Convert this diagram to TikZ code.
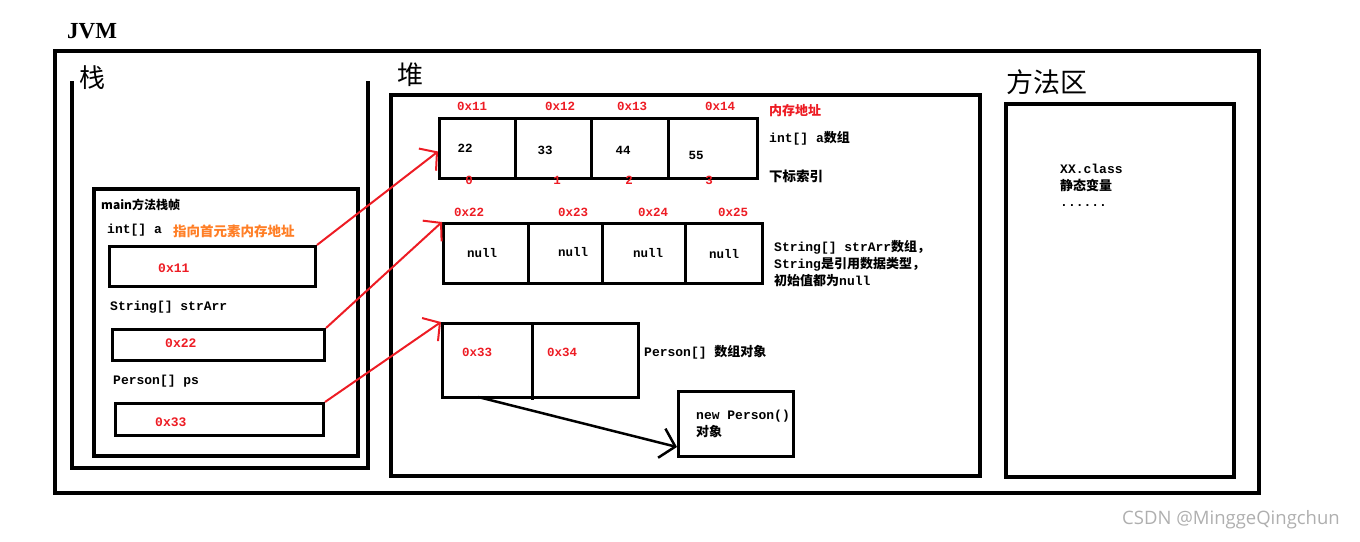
\documentclass[tikz,border=0pt]{standalone}
\usepackage{fontspec}
\setmainfont{Liberation Mono}
\newfontfamily\cjk{Noto Sans CJK SC}
\newfontfamily\jvmfont{Liberation Serif}
\newfontfamily\wmfont{Open Sans}
\newcommand{\zh}[1]{{\cjk #1}}
\usetikzlibrary{arrows.meta}
\definecolor{pred}{HTML}{ED1C24}
\definecolor{porange}{HTML}{FF7F27}
\definecolor{wgray}{HTML}{AFAFAF}
\begin{document}
\begin{tikzpicture}[x=1pt,y=-1pt,
  frame/.style={draw, line width=4pt, inner sep=0, anchor=north west},
  cell/.style={draw, line width=3pt, inner sep=0, anchor=north west},
  divider/.style={line width=3pt},
  txt/.style={inner sep=0, anchor=west, font=\fontsize{13}{15}\selectfont\bfseries},
  ctxt/.style={inner sep=0, anchor=center, font=\fontsize{12.5}{15}\selectfont\bfseries},
  addr/.style={ctxt, text=pred},
  big/.style={inner sep=0, anchor=west, font={\cjk\fontsize{26}{28}\selectfont}},
  redarrow/.style={draw=pred, line width=2pt, -{Straight Barb[length=12pt,width=28pt,line width=2pt]}},
  blackarrow/.style={draw=black, line width=2.5pt, -{Straight Barb[length=14pt,width=30pt,line width=2.5pt]}}
]
\useasboundingbox (0,0) rectangle (1360,541);

% JVM
\node[inner sep=0, anchor=west, font={\jvmfont\bfseries\fontsize{23}{26}\selectfont}] (jvmlbl) at (67,31) {JVM};
\node[frame, minimum width=1204pt, minimum height=442pt] (jvm) at (53,49) {};

% Stack
\node[big] (stacklbl) at (79,78) {栈};
\coordinate (sl) at (72,81);
\coordinate (sr) at (368,81);
\draw[line width=4pt] (sl) |- (368,468) -- (sr);

\node[frame, minimum width=264pt, minimum height=267pt] (mainframe) at (92,187) {};
\node[inner sep=0, anchor=west, font={\cjk\bfseries\fontsize{12}{14}\selectfont}] (mainlbl) at (101,205) {main方法栈帧};
\node[txt] (vara) at (107,230) {int[] a};
\node[inner sep=0, anchor=west, text=porange, font={\cjk\bfseries\fontsize{13.5}{15}\selectfont}] (note) at (173,231) {指向首元素内存地址};
\node[cell, minimum width=206pt, minimum height=40pt] (b1) at (108,245) {};
\node[txt, text=pred] (b1t) at (158,268) {0x11};
\node[txt] (varstr) at (110,307) {String[] strArr};
\node[cell, minimum width=212pt, minimum height=31pt] (b2) at (111,328) {};
\node[txt, text=pred] (b2t) at (165,343) {0x22};
\node[txt] (varps) at (113,381) {Person[] ps};
\node[cell, minimum width=208pt, minimum height=32pt] (b3) at (114,402) {};
\node[txt, text=pred] (b3t) at (155,422) {0x33};

% Heap
\node[big] (heaplbl) at (397,75) {堆};
\node[frame, minimum width=589pt, minimum height=381pt] (heap) at (389,93) {};

% array 1
\node[cell, minimum width=318pt, minimum height=60pt] (arr1) at (438,117) {};
\coordinate (d11) at (515,117); \coordinate (d12) at (591,117); \coordinate (d13) at (668,117);
\draw[divider] (d11) -- (515,177);
\draw[divider] (d12) -- (591,177);
\draw[divider] (d13) -- (668,179);
\node[addr] (a11) at (472,106) {0x11};
\node[addr] (a12) at (560,106) {0x12};
\node[addr] (a13) at (632,106) {0x13};
\node[addr] (a14) at (720,106) {0x14};
\node[ctxt] (v1) at (465,148) {22};
\node[ctxt] (v2) at (545,150) {33};
\node[ctxt] (v3) at (623,150) {44};
\node[ctxt] (v4) at (696,155) {55};
\node[addr] (i0) at (469,180) {0};
\node[addr] (i1) at (557,180) {1};
\node[addr] (i2) at (629,180) {2};
\node[addr] (i3) at (709,180) {3};
\node[inner sep=0, anchor=west, text=pred, font={\cjk\bfseries\fontsize{13}{15}\selectfont}] (memlbl) at (769,111) {内存地址};
\node[txt] (arr1lbl) at (769,138) {int[] a\zh{数组}};
\node[inner sep=0, anchor=west, font={\cjk\bfseries\fontsize{13.5}{15}\selectfont}] (idxlbl) at (769,176) {下标索引};

% array 2
\node[cell, minimum width=319pt, minimum height=60pt] (arr2) at (442,222) {};
\coordinate (d21) at (528,222); \coordinate (d22) at (602,222); \coordinate (d23) at (685,222);
\draw[divider] (d21) -- (528,284);
\draw[divider] (d22) -- (602,282);
\draw[divider] (d23) -- (685,282);
\node[addr] (a21) at (469,212) {0x22};
\node[addr] (a22) at (573,212) {0x23};
\node[addr] (a23) at (653,212) {0x24};
\node[addr] (a24) at (733,212) {0x25};
\node[ctxt] (n1) at (482,253) {null};
\node[ctxt] (n2) at (573,252) {null};
\node[ctxt] (n3) at (648,253) {null};
\node[ctxt] (n4) at (724,254) {null};
\node[txt, align=left, font=\fontsize{13}{17}\selectfont\bfseries, anchor=north west] (arr2lbl) at (774,240)
  {String[] strArr\zh{数组，}\\String\zh{是引用数据类型，}\\\zh{初始值都为}null};

% array 3
\node[cell, minimum width=196pt, minimum height=74pt] (arr3) at (441,322) {};
\coordinate (d31) at (532,322);
\draw[divider] (d31) -- (532,400);
\node[addr] (a31) at (477,352) {0x33};
\node[addr] (a32) at (562,352) {0x34};
\node[txt] (arr3lbl) at (644,352) {Person[] \zh{数组对象}};

% person object
\node[cell, minimum width=115pt, minimum height=65pt] (person) at (677,390) {};
\node[txt, align=left, anchor=north west, font=\fontsize{13}{17}\selectfont\bfseries] (persontxt) at (696,410) {new Person()\\\zh{对象}};

% Method area
\node[big, font={\cjk\fontsize{27}{29}\selectfont}] (methlbl) at (1006,82) {方法区};
\node[frame, minimum width=228pt, minimum height=373pt] (meth) at (1004,102) {};
\node[txt, align=left, anchor=north west, font=\fontsize{13}{16.5}\selectfont\bfseries] (methtxt) at (1060,164) {XX.class\\\zh{静态变量}\\......};

% watermark
\node[inner sep=0, anchor=west, text=wgray, font={\wmfont\fontsize{18.5}{20}\selectfont}] (wm) at (1122,520) {CSDN @MinggeQingchun};

% arrows
\draw[redarrow] (b1.north east) -- ([yshift=-3pt]arr1.west);
\draw[redarrow] (b2.north east) -- (arr2.north west);
\draw[redarrow] (b3.north east) -- (arr3.north west);
\coordinate (pstart) at (478,397);
\coordinate (pend) at (677,447);
\draw[blackarrow] (pstart) -- (pend);
\end{tikzpicture}
\end{document}
